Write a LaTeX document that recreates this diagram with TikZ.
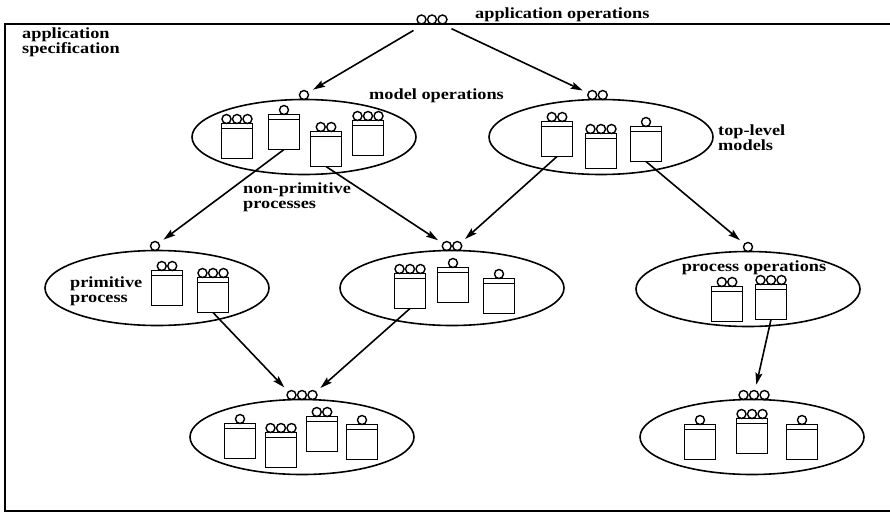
\documentclass[tikz,border=0pt]{standalone}
\usepackage{fontspec}
\setmainfont{Liberation Serif}[FakeStretch=1.18]
\usetikzlibrary{shapes.geometric,arrows.meta}
\tikzstyle{model}=[ellipse,draw,line width=1.6pt,minimum width=224pt,minimum height=75pt,inner sep=0pt,outer sep=0pt]
\tikzstyle{opbox}=[rectangle,draw,line width=1.6pt,minimum width=31pt,minimum height=35pt,inner sep=0pt,outer sep=0pt,
  path picture={\draw[line width=1.2pt] ([yshift=-5pt]path picture bounding box.north west) -- ([yshift=-5pt]path picture bounding box.north east);}]
\tikzstyle{port}=[circle,draw,line width=1.4pt,fill=white,inner sep=0pt,outer sep=0pt,minimum width=9pt]
\tikzstyle{flow}=[draw,line width=1.6pt,-{Stealth[length=12pt,width=7pt,inset=2pt]},shorten >=6pt]
\tikzstyle{lbl}=[font=\bfseries\fontsize{15.5}{15}\selectfont,inner sep=0pt,align=left]
% little circles sitting on top of a node
\newcommand{\portsabove}[2]{%
  \foreach \dx [count=\i] in {#2}
    \node[port,anchor=south] (#1-\i) at ([xshift=\dx pt]#1.north) {};}

\begin{document}
\begin{tikzpicture}[x=1pt,y=-1pt]
  \useasboundingbox (0,0) rectangle (890,514);
  \draw[line width=1.8pt] (890,24) -- (5,24) -- (5,511) -- (890,511);

  % models
  \path (304,137) node[model] (mops) {}
        (mops) ++(-67,4) node[opbox] (mops-a) {}
        (mops) ++(-20,-5) node[opbox] (mops-b) {}
        (mops) ++(22,12) node[opbox] (mops-c) {}
        (mops) ++(64,1) node[opbox] (mops-d) {}
        (601,137) node[model] (tops) {}
        (tops) ++(-44,2) node[opbox] (tops-a) {}
        (tops) ++(0,14) node[opbox] (tops-b) {}
        (tops) ++(45,7) node[opbox] (tops-c) {}
        (157,288) node[model] (prim) {}
        (prim) ++(10,0) node[opbox] (prim-a) {}
        (prim) ++(56,7) node[opbox] (prim-b) {}
        (452,288) node[model] (nprim) {}
        (nprim) ++(-42,3) node[opbox] (nprim-a) {}
        (nprim) ++(1,-3) node[opbox] (nprim-b) {}
        (nprim) ++(47,8) node[opbox] (nprim-c) {}
        (748,289) node[model] (pops) {}
        (pops) ++(-21,15) node[opbox] (pops-a) {}
        (pops) ++(23,13) node[opbox] (pops-b) {}
        (302,437) node[model] (leafa) {}
        (leafa) ++(-62,4) node[opbox] (leafa-a) {}
        (leafa) ++(-21,13) node[opbox] (leafa-b) {}
        (leafa) ++(20,-3) node[opbox] (leafa-c) {}
        (leafa) ++(60,5) node[opbox] (leafa-d) {}
        (752,437) node[model] (leafb) {}
        (leafb) ++(-52,5) node[opbox] (leafb-a) {}
        (leafb) ++(0,-1) node[opbox] (leafb-b) {}
        (leafb) ++(50,5) node[opbox] (leafb-c) {};

  % operations
  \node[inner sep=0pt,outer sep=0pt,minimum size=0pt] (appops) at (432,24) {};
  \portsabove{appops}{-10.5,0,10.5}
  \portsabove{mops}{0}
  \portsabove{tops}{-8.75,1.75}
  \portsabove{prim}{-2}
  \portsabove{nprim}{-5.25,5.25}
  \portsabove{pops}{0}
  \portsabove{leafa}{-10.5,0,10.5}
  \portsabove{leafb}{-8.5,2,12.5}
  \portsabove{mops-a}{-10.5,0,10.5}
  \portsabove{mops-b}{0}
  \portsabove{mops-c}{-5.25,5.25}
  \portsabove{mops-d}{-10.5,0,10.5}
  \portsabove{tops-a}{-5.25,5.25}
  \portsabove{tops-b}{-10.5,0,10.5}
  \portsabove{tops-c}{0}
  \portsabove{prim-a}{-5.25,5.25}
  \portsabove{prim-b}{-10.5,0,10.5}
  \portsabove{nprim-a}{-10.5,0,10.5}
  \portsabove{nprim-b}{0}
  \portsabove{nprim-c}{0}
  \portsabove{pops-a}{-5.25,5.25}
  \portsabove{pops-b}{-10.5,0,10.5}
  \portsabove{leafa-a}{0}
  \portsabove{leafa-b}{-10.5,0,10.5}
  \portsabove{leafa-c}{-5.25,5.25}
  \portsabove{leafa-d}{0}
  \portsabove{leafb-a}{0}
  \portsabove{leafb-b}{-10.5,0,10.5}
  \portsabove{leafb-c}{0}

  % calls
  \path (appops-2) edge[flow,shorten <=17pt] (mops-1)
        (appops-2) edge[flow,shorten <=17pt] (tops-1)
        (mops-b.south) edge[flow] (prim-1)
        (mops-c.south) edge[flow] (nprim-1)
        (tops-a.south) edge[flow] (nprim-2)
        (tops-c.south) edge[flow] (pops-1)
        (prim-b.south) edge[flow] (leafa-1)
        (nprim-a.south) edge[flow] (leafa-3)
        (pops-b.south) edge[flow] (leafb-2);

  % labels
  \node[lbl,anchor=base west] (appopsl) at (475,18) {application operations};
  \node[lbl,anchor=west] (specl) at (22,42) {application\\specification};
  \node[lbl,anchor=base west] (mopsl) at (369,99) {model operations};
  \node[lbl,anchor=west] (topsl) at (718,138) {top-level\\models};
  \node[lbl,anchor=west] (npriml) at (243,197) {non-primitive\\processes};
  \node[lbl,anchor=west] (priml) at (70,291) {primitive\\process};
  \node[lbl,anchor=base] (popsl) at (754,271) {process operations};
\end{tikzpicture}
\end{document}
